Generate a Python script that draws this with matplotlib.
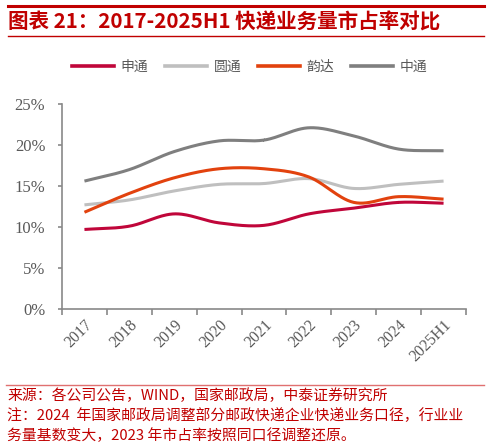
import numpy as np
import matplotlib
matplotlib.use("Agg")
import matplotlib.pyplot as plt
from matplotlib.lines import Line2D

plt.rcParams['font.family'] = ['Noto Sans CJK SC', 'DejaVu Sans']

# data (market share, %)
years = ["2017", "2018", "2019", "2020", "2021", "2022", "2023", "2024", "2025H1"]
sto = [9.7, 10.1, 11.6, 10.5, 10.2, 11.6, 12.3, 13.0, 12.9]      # 申通
yto = [12.7, 13.3, 14.4, 15.2, 15.3, 15.9, 14.7, 15.2, 15.6]     # 圆通
yunda = [11.8, 14.1, 16.0, 17.1, 17.1, 16.1, 13.0, 13.7, 13.4]   # 韵达
zto = [15.6, 17.0, 19.2, 20.5, 20.6, 22.1, 21.1, 19.5, 19.3]     # 中通

names = ["申通", "圆通", "韵达", "中通"]
colors = ["#C0063A", "#BFBFBF", "#E2420E", "#7F7F7F"]

RED = "#C00000"


def smooth(x, y, n=30):
    # catmull-rom curve through the points, like excel's smoothed line
    x = np.asarray(x, float)
    y = np.asarray(y, float)
    px = np.concatenate([[2 * x[0] - x[1]], x, [2 * x[-1] - x[-2]]])
    py = np.concatenate([[2 * y[0] - y[1]], y, [2 * y[-1] - y[-2]]])
    xs, ys = [], []
    t = np.linspace(0, 1, n)
    for i in range(1, len(px) - 2):
        for arr, out in ((px, xs), (py, ys)):
            p0, p1, p2, p3 = arr[i - 1], arr[i], arr[i + 1], arr[i + 2]
            out.extend(0.5 * ((2 * p1) + (-p0 + p2) * t
                              + (2 * p0 - 5 * p1 + 4 * p2 - p3) * t ** 2
                              + (-p0 + 3 * p1 - 3 * p2 + p3) * t ** 3))
    return np.array(xs), np.array(ys)


fig = plt.figure(figsize=(4.88, 4.47), dpi=100)
ax = fig.add_axes([62 / 488, 1 - 309 / 447, (466 - 62) / 488, (309 - 104) / 447])

xpos = np.arange(len(years))
for vals, c in zip([sto, yto, yunda, zto], colors):
    sx, sy = smooth(xpos, vals)
    ax.plot(sx, sy, color=c, lw=2.2, solid_capstyle='butt')

ax.set_xlim(-0.5, len(years) - 0.5)
ax.set_ylim(0, 25)
ax.set_yticks([0, 5, 10, 15, 20, 25])
ax.set_yticklabels([f"{v}%" for v in [0, 5, 10, 15, 20, 25]],
                   family=['Liberation Serif'], fontsize=12, color="#595959")
ax.set_xticks(np.arange(-0.5, len(years), 1.0))
ax.set_xticklabels([])
ax.set_xticks(xpos, minor=True)
ax.set_xticklabels(years, minor=True, rotation=45, ha='right', va='top',
                   rotation_mode='anchor', family=['Liberation Serif'],
                   fontsize=11.5, color="#595959")
ax.tick_params(axis='x', which='major', direction='out', length=4, color="#898989", width=1.2)
ax.tick_params(axis='x', which='minor', length=0, pad=6)
ax.tick_params(axis='y', direction='out', length=3, color="#898989", width=1.2, pad=9)
for s in ['top', 'right']:
    ax.spines[s].set_visible(False)
for s in ['left', 'bottom']:
    ax.spines[s].set_color("#898989")
    ax.spines[s].set_linewidth(1.2)

handles = [Line2D([], [], color=c, lw=2.6) for c in colors]
fig.legend(handles, names, loc='center', bbox_to_anchor=(250 / 488, 1 - 67 / 447), ncol=4,
           frameon=False, fontsize=10, handlelength=3.0, handletextpad=0.5,
           columnspacing=1.2, labelcolor="#595959")

# title block
fig.add_artist(Line2D([8 / 488, 484 / 488], [1 - 6 / 447] * 2, color=RED, lw=2.2))
fig.add_artist(Line2D([8 / 488, 484 / 488], [1 - 36 / 447] * 2, color=RED, lw=1.0))
fig.text(8 / 488, 1 - 22 / 447, "图表 21：2017-2025H1 快递业务量市占率对比",
         fontsize=14.8, fontweight='bold', fontstyle='italic', color=RED, va='center')

# source / notes
fig.add_artist(Line2D([6 / 488, 484 / 488], [1 - 385 / 447] * 2, color="#E07070", lw=1.0))
notes = ["来源：各公司公告，WIND，国家邮政局，中泰证券研究所",
         "注：2024  年国家邮政局调整部分邮政快递企业快递业务口径，行业业",
         "务量基数变大，2023 年市占率按照同口径调整还原。"]
for i, line in enumerate(notes):
    fig.text(7 / 488, 1 - (396 + i * 20) / 447, line, fontsize=10.7, color=RED, va='center')

fig.savefig("out.png", dpi=100)
